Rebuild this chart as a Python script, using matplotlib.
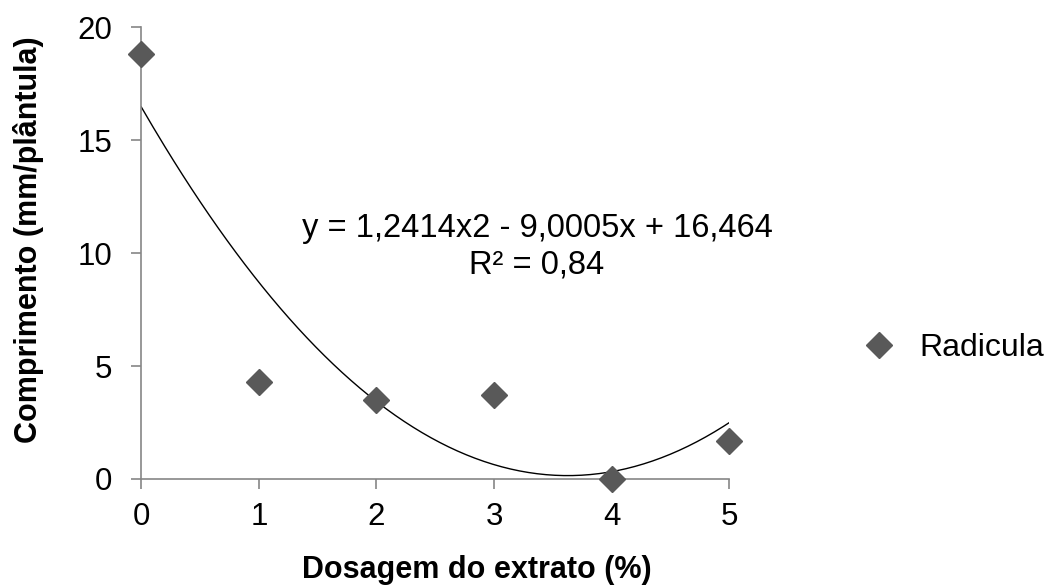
import numpy as np
import matplotlib.pyplot as plt

plt.rcParams['font.family'] = ['Liberation Sans', 'DejaVu Sans']

# dados
dosagem = [0, 1, 2, 3, 4, 5]
radicula = [18.8, 4.3, 3.5, 3.7, 0.0, 1.7]

# coeficientes da linha de tendencia
a, b, c = 1.2414, -9.0005, 16.464

fig = plt.figure(figsize=(10.55, 5.85), dpi=100)
ax = fig.add_axes([0.1339, 0.1812, 0.5574, 0.7726])

xs = np.linspace(0, 5, 200)
ax.plot(xs, a * xs**2 + b * xs + c, color='black', lw=1.0, zorder=2)
ax.plot(dosagem, radicula, 'D', color='#595959', markersize=13.5, ls='none',
        clip_on=False, zorder=3, label='Radicula')

ax.set_xlim(0, 5)
ax.set_ylim(0, 20)
ax.set_xticks(range(0, 6))
ax.set_yticks(range(0, 21, 5))

for s in ['top', 'right']:
    ax.spines[s].set_visible(False)
for s in ['left', 'bottom']:
    ax.spines[s].set_color('#868686')
    ax.spines[s].set_linewidth(1.2)
ax.tick_params(direction='out', length=7.2, width=1.2, color='#868686',
               labelsize=22.5)
ax.tick_params(axis='x', pad=9.5)
ax.tick_params(axis='y', pad=13.5)

ax.set_xlabel('Dosagem do extrato (%)', fontsize=22, fontweight='bold', va='center')
ax.xaxis.set_label_coords(0.571, -0.201)
ax.set_ylabel('Comprimento (mm/plântula)', fontsize=22, fontweight='bold', va='center')
ax.yaxis.set_label_coords(-0.191, 0.529)

ax.text(0.673, 0.555, 'y = 1,2414x2 - 9,0005x + 16,464', fontsize=23.5,
        ha='center', va='center', transform=ax.transAxes)
ax.text(0.673, 0.473, 'R² = 0,84', fontsize=23.5,
        ha='center', va='center', transform=ax.transAxes)

fig.legend(loc='center left', bbox_to_anchor=(863 / 1055, 0.405), frameon=False,
           fontsize=23, handletextpad=0.78, handlelength=1.0,
           borderpad=0, borderaxespad=0)

fig.savefig('out.png', dpi=100)
